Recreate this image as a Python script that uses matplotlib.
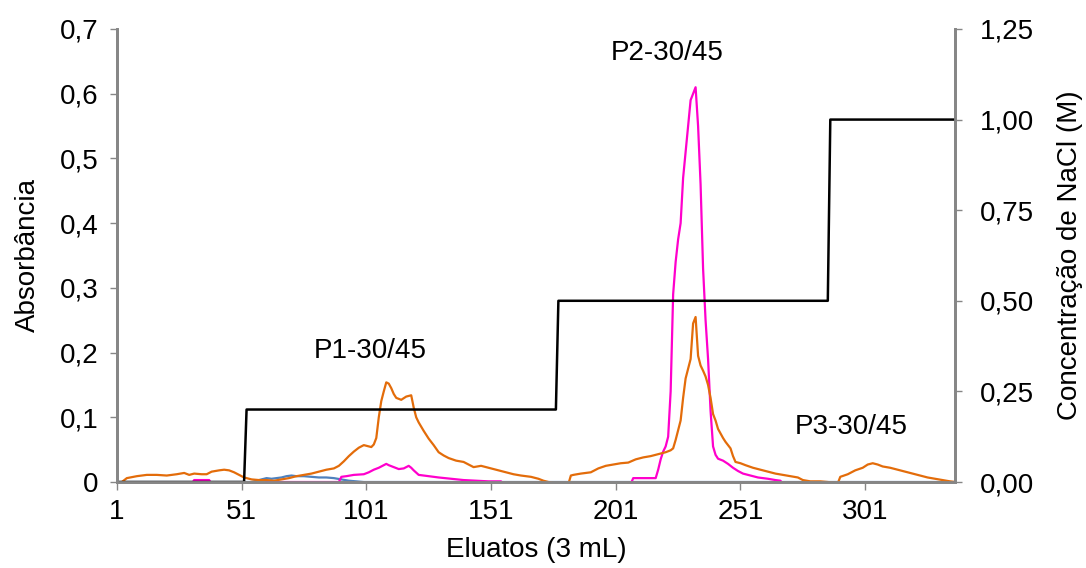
import numpy as np
import matplotlib
matplotlib.use('Agg')
import matplotlib.pyplot as plt

plt.rcParams['font.family'] = ['Liberation Sans', 'DejaVu Sans']
plt.rcParams['font.size'] = 20

# absorbance, orange series (eluate number, value)
x_orange = [1, 3, 5, 9, 13, 17, 21, 25, 28, 30, 32, 35, 37, 39, 42, 44, 46, 48,
            50, 52, 55, 58, 61, 64, 67, 70, 73, 76, 79, 82, 85, 88, 90, 92, 94, 96, 98, 100,
            101, 103, 104, 105, 106, 107, 108, 109, 110, 111, 112, 113, 115, 117, 119, 120,
            121, 122, 124, 126, 128, 130, 132, 134, 137, 140, 142, 144, 147, 150, 153, 156,
            160, 163, 167, 170, 172, 174, 178, 182, 183, 184, 187, 191, 194, 197, 200,
            203, 206, 209, 212, 215, 218, 221, 223, 224, 225, 226, 227, 228, 229, 230, 231,
            232, 233, 234, 235, 236, 237, 238, 239, 240, 241, 242, 243, 244, 245, 247, 248,
            249, 251, 253, 256, 259, 262, 265, 268, 271, 274, 276, 279, 283, 286, 290, 291,
            294, 297, 300, 302, 304, 306, 308, 311, 314, 317, 320, 323, 326, 329, 332, 335, 337]
y_orange = [-0.002, 0.000, 0.006, 0.009, 0.011, 0.011, 0.010, 0.012, 0.014, 0.011, 0.013,
            0.012, 0.012, 0.016, 0.018, 0.019, 0.018, 0.015, 0.011, 0.007, 0.004, 0.003,
            0.003, 0.002, 0.004, 0.006, 0.009, 0.011, 0.013, 0.016, 0.019, 0.021, 0.025, 0.032,
            0.040, 0.047, 0.053, 0.057, 0.056, 0.054, 0.058, 0.068, 0.100, 0.125, 0.140, 0.154,
            0.152, 0.145, 0.136, 0.130, 0.127, 0.132, 0.134, 0.115, 0.100, 0.092, 0.079, 0.067,
            0.057, 0.046, 0.041, 0.037, 0.033, 0.031, 0.027, 0.023, 0.025, 0.022, 0.019, 0.016,
            0.012, 0.010, 0.008, 0.005, 0.002, 0.000, -0.003, -0.003, 0.010, 0.011, 0.013,
            0.015, 0.021, 0.025, 0.027, 0.029, 0.030, 0.035, 0.038, 0.040, 0.043, 0.046, 0.049,
            0.052, 0.065, 0.080, 0.095, 0.130, 0.160, 0.175, 0.190, 0.245, 0.255, 0.195, 0.180,
            0.172, 0.163, 0.150, 0.130, 0.105, 0.095, 0.082, 0.075, 0.068, 0.062, 0.052, 0.040,
            0.031, 0.029, 0.026, 0.022, 0.019, 0.016, 0.013, 0.011, 0.009, 0.007, 0.003, 0.001,
            0.001, 0.000, -0.002, 0.008, 0.012, 0.018, 0.022, 0.027, 0.029, 0.027, 0.024, 0.022,
            0.019, 0.016, 0.013, 0.010, 0.007, 0.005, 0.003, 0.001, 0.000]

# absorbance, magenta series
x_pink = [1, 31, 32, 38, 39, 60, 61, 90, 91, 93, 96, 100, 102, 104, 106, 108, 109, 110, 112,
          114, 116, 118, 119, 120, 122, 126, 130, 135, 140, 145, 150, 155, 156, 207,
          208, 217, 218, 219, 220, 221, 222, 223, 224, 225, 226, 227, 228, 229, 230, 231, 232,
          233, 234, 235, 236, 237, 238, 239, 240, 241, 242, 244, 246, 248, 250, 252, 255, 258,
          262, 265, 267, 268, 337]
y_pink = [-0.003, -0.003, 0.003, 0.003, -0.003, -0.003, 0.0, 0.0, 0.008, 0.009, 0.011, 0.012,
          0.015, 0.019, 0.022, 0.026, 0.028, 0.026, 0.023, 0.020, 0.021, 0.025, 0.022, 0.018,
          0.011, 0.009, 0.007, 0.005, 0.003, 0.002, 0.001, 0.001, -0.003, -0.003,
          0.006, 0.006, 0.019, 0.035, 0.047, 0.055, 0.070, 0.140, 0.290, 0.340, 0.375, 0.400,
          0.470, 0.510, 0.550, 0.590, 0.600, 0.610, 0.550, 0.460, 0.330, 0.250, 0.190, 0.110,
          0.055, 0.042, 0.036, 0.033, 0.028, 0.022, 0.017, 0.013, 0.010, 0.007, 0.005, 0.003,
          0.002, -0.003, -0.003]

# absorbance, blue series
x_blue = [1, 55, 57, 59, 61, 63, 65, 67, 69, 71, 73, 76, 79, 82, 85, 88, 91, 94, 97, 100, 337]
y_blue = [0.0, 0.0, 0.002, 0.004, 0.006, 0.005, 0.006, 0.007, 0.009, 0.010, 0.009, 0.009,
          0.008, 0.007, 0.007, 0.006, 0.004, 0.002, 0.001, 0.0, 0.0]

# NaCl step gradient (right axis)
x_nacl = [1, 52, 53, 177, 178, 286, 287, 337]
y_nacl = [0.0, 0.0, 0.2, 0.2, 0.5, 0.5, 1.0, 1.0]

xticks = [1, 51, 101, 151, 201, 251, 301]
yticks_left = [0, 0.1, 0.2, 0.3, 0.4, 0.5, 0.6, 0.7]
ylabels_left = ['0', '0,1', '0,2', '0,3', '0,4', '0,5', '0,6', '0,7']
yticks_right = [0, 0.25, 0.5, 0.75, 1.0, 1.25]
ylabels_right = ['0,00', '0,25', '0,50', '0,75', '1,00', '1,25']

peaks = [('P1-30/45', 102.5, 0.202), ('P2-30/45', 221.5, 0.663), ('P3-30/45', 295.2, 0.085)]

fig = plt.figure(figsize=(10.86, 5.68), dpi=100)
ax = fig.add_axes([0.1076, 0.1514, 0.7718, 0.7976])
ax2 = ax.twinx()

ax.plot(x_blue, y_blue, color='#4F81BD', lw=1.6, zorder=2)
ax.plot(x_pink, y_pink, color='#FF00CC', lw=1.6, zorder=3)
ax.plot(x_orange, y_orange, color='#E36C0A', lw=1.6, zorder=4)
ax2.plot(x_nacl, y_nacl, color='black', lw=1.8)

ax.set_xlim(1, 337)
ax.set_ylim(0, 0.7)
ax2.set_ylim(0, 1.25)

ax.set_xticks(xticks)
ax.set_xticklabels([str(t) for t in xticks])
ax.set_yticks(yticks_left)
ax.set_yticklabels(ylabels_left)
ax2.set_yticks(yticks_right)
ax2.set_yticklabels(ylabels_right)

gray = '#868686'
for a in (ax, ax2):
    a.spines['top'].set_visible(False)
    for s in ('left', 'right', 'bottom'):
        a.spines[s].set_color(gray)
        a.spines[s].set_linewidth(2)
    a.tick_params(colors=gray, labelcolor='black', labelsize=20, width=1, length=5)
ax.tick_params(axis='x', pad=6, length=6)
ax.tick_params(axis='y', pad=8)
ax2.tick_params(axis='y', pad=13)

ax.set_xlabel('Eluatos (3 mL)', fontsize=20)
ax.set_ylabel('Absorbância', fontsize=20)
ax2.set_ylabel('Concentração de NaCl (M)', fontsize=20)
ax.xaxis.set_label_coords(0.5, -0.15)
ax.xaxis.label.set_va('center')
ax.yaxis.set_label_coords(-0.106, 0.5)
ax.yaxis.label.set_va('center')
ax2.yaxis.set_label_coords(1.137, 0.5)
ax2.yaxis.label.set_va('center')

for name, px, py in peaks:
    ax.text(px, py, name, ha='center', va='center', fontsize=20)

fig.savefig('out.png', dpi=100)
